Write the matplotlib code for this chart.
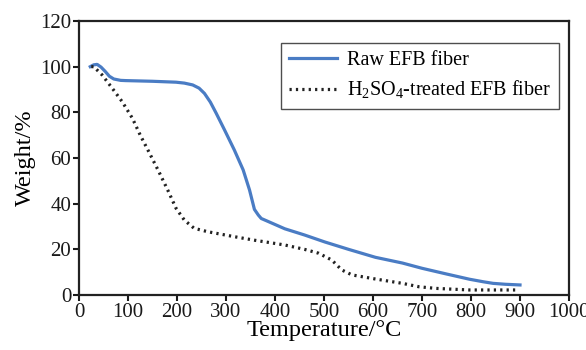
import numpy as np
import matplotlib
matplotlib.use("Agg")
import matplotlib.pyplot as plt

plt.rcParams['font.family'] = ['Liberation Serif', 'DejaVu Serif']
plt.rcParams['mathtext.fontset'] = 'custom'
plt.rcParams['mathtext.rm'] = 'Liberation Serif'

# raw EFB fiber
raw_t = [23, 30, 37, 45, 54, 62, 71, 85, 95, 150, 198, 215, 232, 245, 256, 268, 280, 297, 317, 335, 348, 358, 366,
         372, 386, 420, 460, 502, 550, 605, 660, 700, 750, 797, 825, 845, 870, 900]
raw_w = [100, 100.8, 101, 99.8, 97.8, 95.8, 94.6, 94, 93.9, 93.6, 93.2, 92.8, 92, 90.6, 88.3, 84.5, 79.6, 72.3, 63.5, 54.8, 46, 37.5, 35,
         33.5, 32.2, 29, 26.3, 23.2, 20, 16.5, 14, 11.7, 9.2, 6.9, 5.8, 5.1, 4.7, 4.4]

# H2SO4-treated EFB fiber
trt_t = [25, 30, 47, 68, 88, 109, 125, 143, 163, 181, 198, 215, 235, 263, 318, 358, 420, 460, 489, 516,
         536, 557, 605, 660, 694, 728, 797, 892]
trt_w = [100, 100, 96.4, 90.5, 84.7, 77.4, 70, 62.5, 54, 46, 38, 32.8, 29.2, 27.7, 25.5, 24, 21.9, 20, 18.3, 15.3,
         11, 8.8, 7, 5.1, 3.6, 2.9, 2.2, 2.2]

fig = plt.figure(figsize=(5.86, 3.5), dpi=100)
ax = fig.add_axes([79/586, 1 - 295/350, (569 - 79)/586, (295 - 21)/350])

ax.plot(raw_t, raw_w, color='#4a7cc4', lw=2.3, label='Raw EFB fiber')
ax.plot(trt_t, trt_w, color='#222222', lw=2.3, ls=(0, (0.7, 1.3)), label=r'H$_2$SO$_4$-treated EFB fiber')

ax.set_xlim(0, 1000)
ax.set_ylim(0, 120)
ax.set_xticks(np.arange(0, 1001, 100))
ax.set_yticks(np.arange(0, 121, 20))
ax.tick_params(direction='out', length=4, width=1.5, labelsize=15, pad=1.5, colors='#1a1a1a')
for s in ax.spines.values():
    s.set_linewidth(1.6)
    s.set_color('#222222')

ax.set_xlabel('Temperature/°C', fontsize=17.5, labelpad=-1)
ax.set_ylabel('Weight/%', fontsize=17.5, labelpad=3)

leg = ax.legend(loc='upper right', bbox_to_anchor=(0.98, 0.92), fontsize=14.5, frameon=True, fancybox=False,
                edgecolor='#222222', handlelength=2.4, borderpad=0.4, labelspacing=0.45, handletextpad=0.5,
                borderaxespad=0)
leg.get_frame().set_linewidth(1.0)

fig.savefig('out.png', dpi=100)
